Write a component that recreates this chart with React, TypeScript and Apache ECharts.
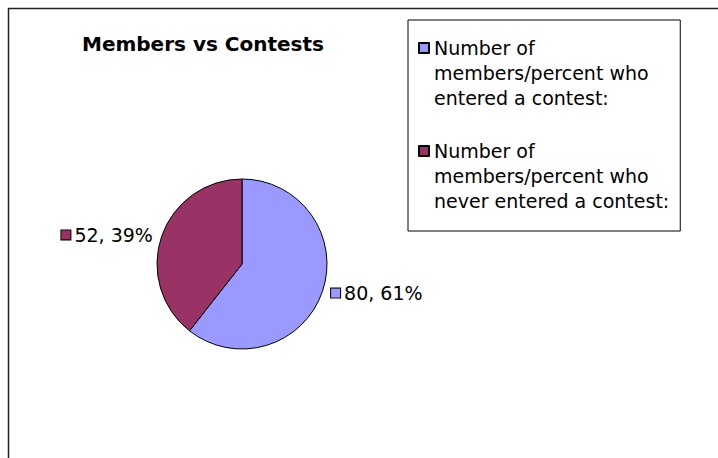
import React, { useEffect, useRef } from "react";
import * as echarts from "echarts";

const titleText = "Members vs Contests";
const categories = [
  "Number of\nmembers/percent who\nentered a contest:",
  "Number of\nmembers/percent who\nnever entered a contest:",
];
const values = [80, 52];
const colors = ["#9999FF", "#993366"];

export default function App() {
  const ref = useRef<HTMLDivElement>(null);
  useEffect(() => {
    if (!ref.current) return;
    const chart = echarts.init(ref.current, null, { renderer: "svg" });
    const font = "DejaVu Sans";
    const rich: any = {
      t: { fontFamily: font, fontSize: 19, color: "#000", padding: [0, 0, 0, 4] },
    };
    colors.forEach((c, i) => {
      rich["m" + i] = {
        width: 9,
        height: 9,
        backgroundColor: c,
        borderColor: "#000",
        borderWidth: 1,
      };
    });
    chart.setOption({
      animation: false,
      backgroundColor: "#fff",
      color: colors,
      title: {
        text: titleText,
        left: 82,
        top: 34,
        padding: 0,
        textStyle: { fontFamily: font, fontSize: 20, fontWeight: "bold", color: "#000" },
      },
      legend: {
        orient: "vertical",
        left: 408,
        top: 20,
        padding: [14.5, 11, 16.5, 10],
        itemGap: 26,
        itemWidth: 10,
        itemHeight: 75,
        itemTextGap: 10,
        selectedMode: false,
        borderColor: "#000",
        borderWidth: 1,
        icon: "path://M0,0M0,7.5L10,7.5L10,17.5L0,17.5ZM0,75",
        textStyle: { fontFamily: font, fontSize: 19, lineHeight: 25, color: "#000" },
        data: categories,
      },
      graphic: [
        {
          type: "rect",
          z: -1,
          shape: { x: 8.5, y: 8.5, width: 900, height: 700 },
          style: { fill: "none", stroke: "#222", lineWidth: 1.5 },
        },
      ],
      series: [
        {
          type: "pie",
          center: [242, 264],
          radius: 85,
          startAngle: 90,
          clockwise: true,
          avoidLabelOverlap: false,
          itemStyle: { borderColor: "#000", borderWidth: 1 },
          emphasis: { disabled: true },
          labelLine: { show: false, length: 4, length2: 0 },
          label: {
            show: true,
            position: "outside",
            formatter: (p: any) =>
              `{m${p.dataIndex}|}{t|${p.value}, ${Math.round(p.percent)}%}`,
            rich,
          },
          data: categories.map((name, i) => ({ name, value: values[i] })),
        },
      ],
    });
    return () => chart.dispose();
  }, []);
  return (
    <div
      ref={ref}
      style={{ position: "fixed", left: 0, top: 0, width: 718, height: 458 }}
    />
  );
}
